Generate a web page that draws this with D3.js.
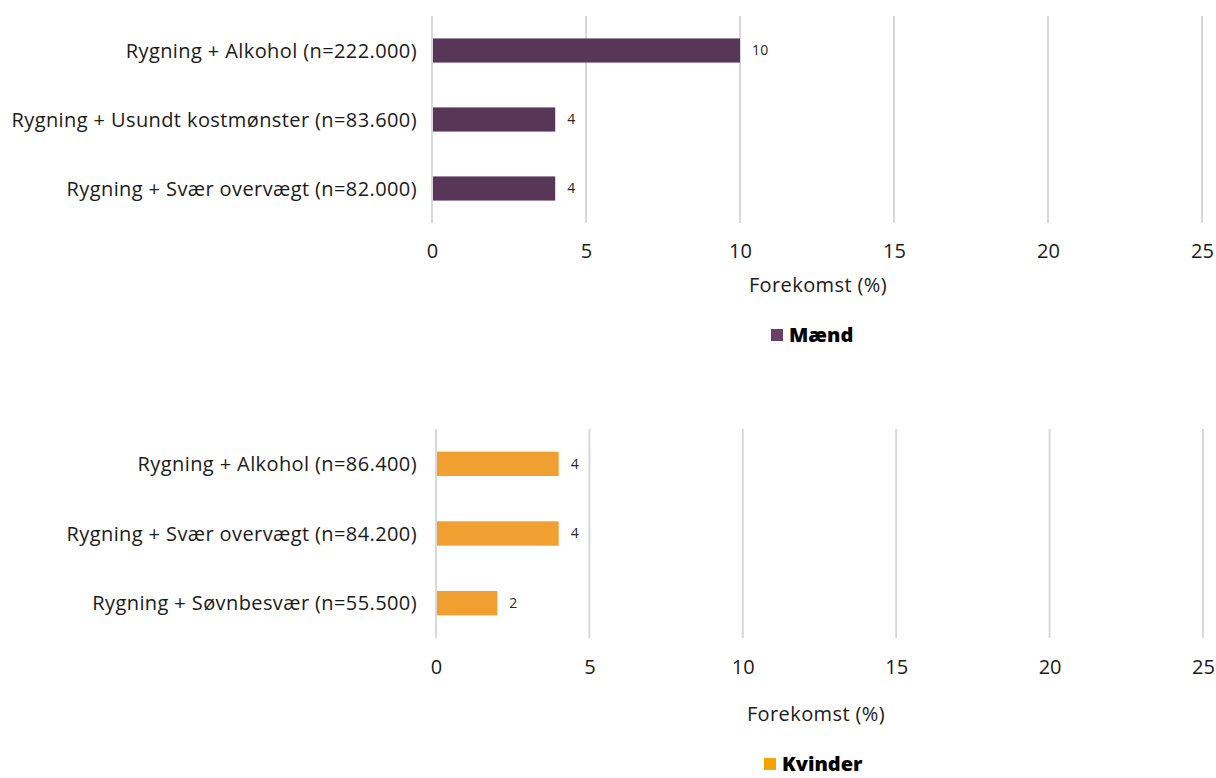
<!DOCTYPE html>
<html>
<head>
<meta charset="utf-8">
<script src="https://cdn.jsdelivr.net/npm/d3@7"></script>
<style>
  body { margin: 0; background: #fff; }
  svg { display: block; font-family: "Open Sans", Lato, sans-serif; }
</style>
</head>
<body>
<svg id="chart" width="1216" height="778"></svg>
<script>
// data
const menCats = ['Rygning + Alkohol (n=222.000)', 'Rygning + Usundt kostmønster (n=83.600)', 'Rygning + Svær overvægt (n=82.000)'];
const menVals = [10, 4, 4];
const womenCats = ['Rygning + Alkohol (n=86.400)', 'Rygning + Svær overvægt (n=84.200)', 'Rygning + Søvnbesvær (n=55.500)'];
const womenVals = [4, 4, 2];
const xTicks = [0, 5, 10, 15, 20, 25];
const axisTitle = 'Forekomst (%)';

const svg = d3.select('#chart');

function drawPanel(cfg) {
  const x = d3.scaleLinear().domain([0, 25]).range([cfg.left, cfg.right]);
  const y = d3.scaleBand().domain(cfg.cats).range([cfg.top, cfg.bottom]).paddingInner(0.65).paddingOuter(0.325);
  const g = svg.append('g');

  // gridlines
  g.selectAll('.grid')
    .data(xTicks)
    .enter().append('line')
    .attr('x1', d => x(d)).attr('x2', d => x(d))
    .attr('y1', cfg.top).attr('y2', cfg.bottom)
    .attr('stroke', '#d9d9d9')
    .attr('stroke-width', 2);

  // bars
  const data = cfg.cats.map((c, i) => ({ cat: c, v: cfg.vals[i] }));
  g.selectAll('.bar')
    .data(data)
    .enter().append('rect')
    .attr('x', x(0) + 1)
    .attr('y', d => y(d.cat))
    .attr('width', d => x(d.v) - x(0) - 1)
    .attr('height', y.bandwidth())
    .attr('fill', cfg.color);

  // value labels
  g.selectAll('.val')
    .data(data)
    .enter().append('text')
    .attr('x', d => x(d.v) + 12)
    .attr('y', d => y(d.cat) + y.bandwidth() / 2)
    .attr('dy', '0.35em')
    .attr('font-size', 14)
    .attr('letter-spacing', 0.3)
    .attr('fill', '#262626')
    .text(d => d.v);

  // category labels
  g.selectAll('.cat')
    .data(cfg.cats)
    .enter().append('text')
    .attr('x', cfg.labelX)
    .attr('y', d => y(d) + y.bandwidth() / 2)
    .attr('dy', '0.35em')
    .attr('text-anchor', 'end')
    .attr('font-size', 20)
    .attr('letter-spacing', 0.4)
    .attr('fill', '#1a1a1a')
    .text(d => d);

  // x axis tick labels
  const xAxis = d3.axisBottom(x).tickValues(xTicks).tickSize(0).tickPadding(0);
  const ax = g.append('g')
    .attr('transform', 'translate(0,' + cfg.tickY + ')')
    .call(xAxis);
  ax.select('.domain').remove();
  ax.selectAll('text')
    .attr('font-size', 20)
    .attr('font-family', '"Open Sans", sans-serif')
    .attr('fill', '#1a1a1a')
    .attr('dy', '0.35em');

  // axis title
  g.append('text')
    .attr('x', cfg.titleX)
    .attr('y', cfg.titleY)
    .attr('dy', '0.35em')
    .attr('text-anchor', 'middle')
    .attr('font-size', 20)
    .attr('letter-spacing', 0.4)
    .attr('fill', '#1a1a1a')
    .text(axisTitle);

  // legend
  g.append('rect')
    .attr('x', cfg.legendX)
    .attr('y', cfg.legendY - 6)
    .attr('width', 12).attr('height', 12)
    .attr('fill', cfg.legendColor);
  g.append('text')
    .attr('x', cfg.legendX + 18)
    .attr('y', cfg.legendY)
    .attr('dy', '0.35em')
    .attr('font-size', 20)
    .attr('font-weight', 800)
    .attr('fill', '#000')
    .text(cfg.name);
}

drawPanel({
  cats: menCats, vals: menVals, name: 'Mænd',
  color: '#583657', legendColor: '#6b3d68',
  left: 432, right: 1202, top: 16, bottom: 223,
  labelX: 417, tickY: 251, titleX: 818, titleY: 285,
  legendX: 771, legendY: 335
});

drawPanel({
  cats: womenCats, vals: womenVals, name: 'Kvinder',
  color: '#f0a030', legendColor: '#f5a300',
  left: 436, right: 1203, top: 429, bottom: 638,
  labelX: 417, tickY: 667, titleX: 816, titleY: 714,
  legendX: 764, legendY: 764
});
</script>
</body>
</html>
